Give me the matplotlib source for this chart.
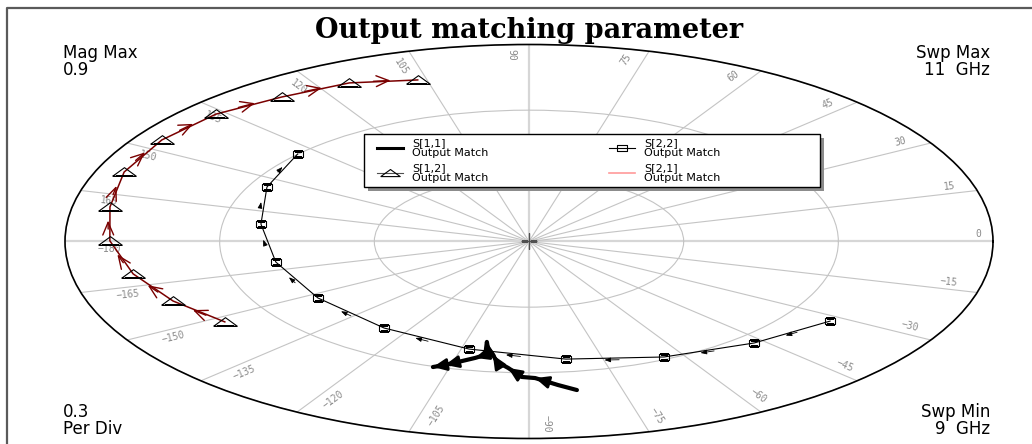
import numpy as np
import matplotlib
matplotlib.use("Agg")
import matplotlib.pyplot as plt
from matplotlib.lines import Line2D
from matplotlib.patches import Rectangle

# ---------------- data (magnitude, angle in degrees), 9 GHz -> 11 GHz ----------------
s12_mag = [0.695, 0.742, 0.782, 0.813, 0.828, 0.847, 0.850, 0.841, 0.816, 0.804, 0.769]
s12_ang = [-148.1, -158.5, -169.1, 179.8, 169.0, 158.0, 146.9, 136.2, 126.0, 115.7, 106.3]

s22_mag = [0.688, 0.637, 0.589, 0.542, 0.505, 0.485, 0.484, 0.500, 0.526, 0.566, 0.601]
s22_ang = [-31.9, -46.7, -63.6, -82.4, -103.3, -125.4, -147.8, -169.2, 171.3, 153.9, 138.3]

s11_mag = [0.685, 0.658, 0.624, 0.619, 0.579, 0.554, 0.523, 0.493, 0.466, 0.525, 0.542, 0.567, 0.587, 0.603]
s11_ang = [-82.2, -85.1, -88.9, -91.3, -94.0, -96.4, -97.7, -99.3, -100.1, -99.3, -101.1, -104.0, -106.1, -108.0]

spoke_angles = [0, 15, 30, 45, 60, 75, 90, 105, 120, 135, 150, 165,
                -180, -165, -150, -135, -120, -105, -90, -75, -60, -45, -30, -15]
mag_max = 0.9
per_div = 0.3

legend_labels = ["S[1,1]\nOutput Match", "S[1,2]\nOutput Match",
                 "S[2,2]\nOutput Match", "S[2,1]\nOutput Match"]

title = "Output matching parameter"

# ---------------- figure ----------------
W, H = 1032, 444
fig = plt.figure(figsize=(W / 100, H / 100), dpi=100)
fig.patch.set_facecolor("white")

def fx(px):
    return px / W

def fy(py):
    return 1 - py / H

cx, cy, rx, ry = 529, 241.5, 464, 197
ax = fig.add_axes([fx(cx - rx), fy(cy + ry), 2 * rx / W, 2 * ry / H], projection="polar")
ax.set_aspect("auto")
ax.set_ylim(0, mag_max)
ax.set_rticks(np.arange(per_div, mag_max + 1e-9, per_div))
ax.set_yticklabels([])
ax.set_thetagrids(np.arange(0, 360, 15), labels=[""] * 24)
ax.tick_params(length=0)
ax.grid(True, color="#c4c4c4", lw=0.8)
for i, gl in enumerate(ax.xaxis.get_gridlines()):
    if i % 6 == 0:
        gl.set_color("#d6d6d6")
        gl.set_linewidth(1.6)
ax.spines["polar"].set_color("black")
ax.spines["polar"].set_linewidth(1.2)
ax.plot([0], [0], marker="+", ms=11, color="#505050", mew=1.0, zorder=3)

# spoke labels
for deg in spoke_angles:
    txt = str(deg).replace("-", "\u2212")
    th = np.deg2rad(deg + 2.3)
    r = mag_max * (0.99 - 0.021 * len(txt))
    phi = np.degrees(np.arctan2(ry * np.sin(np.deg2rad(deg)), rx * np.cos(np.deg2rad(deg))))
    if phi >= 90:
        phi -= 180
    if phi < -90:
        phi += 180
    ax.text(th, r, txt, rotation=phi, rotation_mode="anchor", ha="center", va="center",
            fontsize=7, family="DejaVu Sans Mono", color="#8a8a8a")

tri = [(-1.1, -0.35), (1.1, -0.35), (0, 0.45), (-1.1, -0.35)]
sq = [(-1, -0.6), (1, -0.6), (1, 0.6), (-1, 0.6), (-1, -0.6)]

def polar_pts(mag, ang):
    return np.unwrap(np.deg2rad(ang)), np.asarray(mag)

def seg_arrows(th, r, color, style, scale, lw, f0=0.35, f1=0.6, idx=None):
    n = len(th) - 1
    for i in (range(n) if idx is None else idx):
        t0 = th[i] + f0 * (th[i + 1] - th[i]); r0 = r[i] + f0 * (r[i + 1] - r[i])
        t1 = th[i] + f1 * (th[i + 1] - th[i]); r1 = r[i] + f1 * (r[i + 1] - r[i])
        ax.annotate("", xy=(t1, r1), xytext=(t0, r0),
                    arrowprops=dict(arrowstyle=style, color=color, lw=lw,
                                    mutation_scale=scale, shrinkA=0, shrinkB=0),
                    zorder=4)

# S[1,2]
th12, r12 = polar_pts(s12_mag, s12_ang)
ax.plot(th12, r12, color="#7a0000", lw=1.1, zorder=3)
ax.plot(th12, r12, ls="none", marker=tri, ms=17, mfc="none", mec="black", mew=0.8, zorder=4)
seg_arrows(th12, r12, "#7a0000", "->,head_length=0.7,head_width=0.3", 13, 1.0)

# S[2,2]
th22, r22 = polar_pts(s22_mag, s22_ang)
ax.plot(th22, r22, color="black", lw=0.8, zorder=3)
ax.plot(th22, r22, ls="none", marker=sq, ms=7.5, mfc="none", mec="black", mew=0.8, zorder=4)
seg_arrows(th22, r22, "black", "-|>,head_length=0.8,head_width=0.3", 4.5, 0.6, 0.45, 0.6)

# S[1,1]
th11, r11 = polar_pts(s11_mag, s11_ang)
ax.plot(th11, r11, color="black", lw=3.0, zorder=5, solid_capstyle="round")
seg_arrows(th11, r11, "black", "-|>,head_length=0.9,head_width=0.4", 9, 2.0,
           0.0, 1.0, idx=[1, 3, 5, 7, 9, 11, 12])

# ---------------- texts ----------------
fig.text(fx(529), fy(38), title, ha="center", va="baseline", fontsize=19.5,
         family="DejaVu Serif", weight="bold")
corner_kw = dict(fontsize=12, family="DejaVu Sans", linespacing=0.9)
fig.text(fx(63), fy(44), "Mag Max\n%.1f" % mag_max, ha="left", va="top", **corner_kw)
fig.text(fx(990), fy(44), "Swp Max\n11  GHz", ha="right", va="top", multialignment="right", **corner_kw)
fig.text(fx(63), fy(438), "%.1f\nPer Div" % per_div, ha="left", va="bottom", **corner_kw)
fig.text(fx(990), fy(438), "Swp Min\n9  GHz", ha="right", va="bottom", multialignment="right", **corner_kw)

# outer frame
fig.add_artist(Line2D([fx(7), fx(7), fx(W + 5)], [fy(H + 5), fy(8), fy(8)],
                      transform=fig.transFigure, color="#5a5a5a", lw=1.6))

# ---------------- legend ----------------
lx0, ly0, lx1, ly1 = 364, 134, 820, 187
fig.add_artist(Rectangle((fx(lx0 + 4), fy(ly1 + 4)), (lx1 - lx0) / W, (ly1 - ly0) / H,
                         transform=fig.transFigure, facecolor="#8c8c8c", edgecolor="none", zorder=2.9))
fig.add_artist(Rectangle((fx(lx0), fy(ly1)), (lx1 - lx0) / W, (ly1 - ly0) / H,
                         transform=fig.transFigure, facecolor="white", edgecolor="black", lw=1.0, zorder=3))
handles = [
    Line2D([], [], color="black", lw=2.2),
    Line2D([], [], color="#505050", lw=0.8, marker=tri, ms=14, mfc="none", mec="black", mew=0.8),
    Line2D([], [], color="black", lw=0.8, marker=sq, ms=7, mfc="none", mec="black", mew=0.8),
    Line2D([], [], color="#ff9a9a", lw=1.2),
]
leg = fig.legend(handles, legend_labels, loc="upper left", ncol=2,
                 bbox_to_anchor=(fx(373.5), fy(ly0 + 1)), bbox_transform=fig.transFigure,
                 frameon=False, fontsize=8, handlelength=2.35, handletextpad=0.8,
                 columnspacing=10.9, labelspacing=0.45, borderpad=0.3, borderaxespad=0)
leg.set_zorder(6)
for t in leg.get_texts():
    t.set_linespacing(1.0)

fig.savefig("out.png", dpi=100, facecolor="white")
